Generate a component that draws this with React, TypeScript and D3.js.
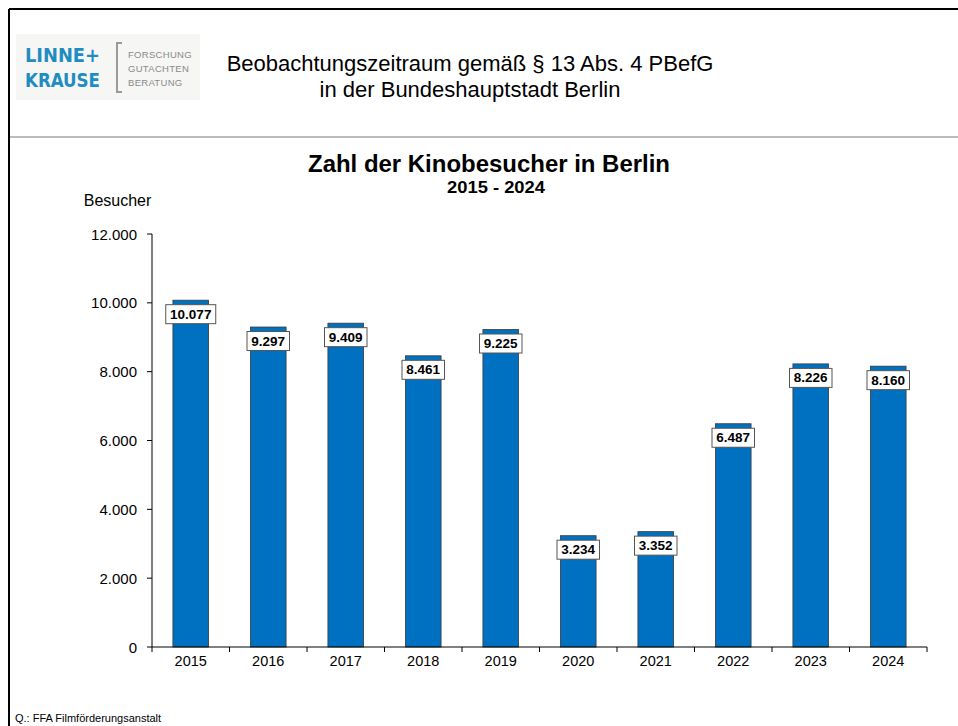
import React from "react";
import * as d3 from "d3";

const years = ["2015", "2016", "2017", "2018", "2019", "2020", "2021", "2022", "2023", "2024"];
const visitors = [10077, 9297, 9409, 8461, 9225, 3234, 3352, 6487, 8226, 8160];
const yTicks = [0, 2000, 4000, 6000, 8000, 10000, 12000];

const fmt = (v: number) => d3.format(",")(v).replace(/,/g, ".");

export default function App() {
  const W = 958, H = 726;
  const left = 152, right = 927, top = 234, bottom = 647;
  const x = d3.scaleBand<string>().domain(years).range([left, right]).paddingInner(0.54).paddingOuter(0.27);
  const xb = d3.scaleBand<string>().domain(years).range([left, right]);
  const y = d3.scaleLinear().domain([0, 12000]).range([bottom, top]);
  const font = "Liberation Sans, Arial, sans-serif";

  return (
    <svg width={W} height={H} style={{ position: "absolute", left: 0, top: 0, background: "#fff" }} fontFamily={font}>
      {/* frame */}
      <line x1={9} y1={9} x2={W} y2={9} stroke="#000" strokeWidth={2} />
      <line x1={9} y1={9} x2={9} y2={H} stroke="#000" strokeWidth={2} />
      <line x1={10} y1={137} x2={W} y2={137} stroke="#a6a6a6" strokeWidth={1.5} />

      {/* logo */}
      <rect x={16} y={34} width={184} height={66} fill="#f6f6f4" />
      <text x={25} y={62} fontSize={20} fontWeight="bold" fill="#1f8dc1" textLength={75} lengthAdjust="spacingAndGlyphs" fontFamily="DejaVu Sans Condensed, DejaVu Sans, sans-serif">LINNE+</text>
      <text x={25} y={87} fontSize={20} fontWeight="bold" fill="#1f8dc1" textLength={75} lengthAdjust="spacingAndGlyphs" fontFamily="DejaVu Sans Condensed, DejaVu Sans, sans-serif">KRAUSE</text>
      <path d="M122,43 H117 V92 H122" fill="none" stroke="#9a9a9a" strokeWidth={2} />
      <text x={128} y={58} fontSize={9.5} fill="#8a8a8a" letterSpacing={0.3}>FORSCHUNG</text>
      <text x={128} y={72} fontSize={9.5} fill="#8a8a8a" letterSpacing={0.3}>GUTACHTEN</text>
      <text x={128} y={86} fontSize={9.5} fill="#8a8a8a" letterSpacing={0.3}>BERATUNG</text>

      {/* header */}
      <text x={470} y={71} fontSize={22} textAnchor="middle" fill="#000">Beobachtungszeitraum gemäß § 13 Abs. 4 PBefG</text>
      <text x={470} y={97} fontSize={22} textAnchor="middle" fill="#000">in der Bundeshauptstadt Berlin</text>

      {/* titles */}
      <text x={308} y={172} fontSize={23} fontWeight="bold" textLength={362} lengthAdjust="spacingAndGlyphs">Zahl der Kinobesucher in Berlin</text>
      <text x={447} y={193} fontSize={17} fontWeight="bold" textLength={98} lengthAdjust="spacingAndGlyphs">2015 - 2024</text>
      <text x={117.5} y={206} fontSize={16} textAnchor="middle">Besucher</text>

      {/* y axis */}
      <line x1={left} y1={top} x2={left} y2={bottom} stroke="#000" />
      {yTicks.map((t) => (
        <g key={t}>
          <line x1={left - 5} x2={left} y1={y(t)} y2={y(t)} stroke="#000" />
          <text x={137} y={y(t) + 5.5} fontSize={15} textAnchor="end">{fmt(t)}</text>
        </g>
      ))}

      {/* bars */}
      {years.map((yr, i) => (
        <rect key={yr} x={x(yr)!} y={y(visitors[i])} width={x.bandwidth()} height={bottom - y(visitors[i])}
          fill="#0070c0" stroke="#3a3a3a" strokeWidth={0.8} />
      ))}

      {/* x axis */}
      <line x1={left} y1={bottom} x2={right} y2={bottom} stroke="#000" />
      {years.map((yr) => (
        <g key={yr}>
          <line x1={xb(yr)!} x2={xb(yr)!} y1={bottom} y2={bottom + 5} stroke="#000" />
          <text x={xb(yr)! + xb.bandwidth() / 2} y={bottom + 19} fontSize={14.5} textAnchor="middle">{yr}</text>
        </g>
      ))}
      <line x1={right} x2={right} y1={bottom} y2={bottom + 5} stroke="#000" />

      {/* value labels */}
      {years.map((yr, i) => {
        const label = fmt(visitors[i]);
        const w = label.length * 7.5 + 5;
        const cx = x(yr)! + x.bandwidth() / 2;
        const cy = y(visitors[i]) + 14;
        return (
          <g key={yr}>
            <rect x={cx - w / 2} y={cy - 9.5} width={w} height={19} fill="#fff" stroke="#555" strokeWidth={1} />
            <text x={cx} y={cy + 4.5} fontSize={13.5} fontWeight="bold" textAnchor="middle">{label}</text>
          </g>
        );
      })}

      <text x={15} y={722} fontSize={11}>Q.: FFA Filmförderungsanstalt</text>
    </svg>
  );
}
